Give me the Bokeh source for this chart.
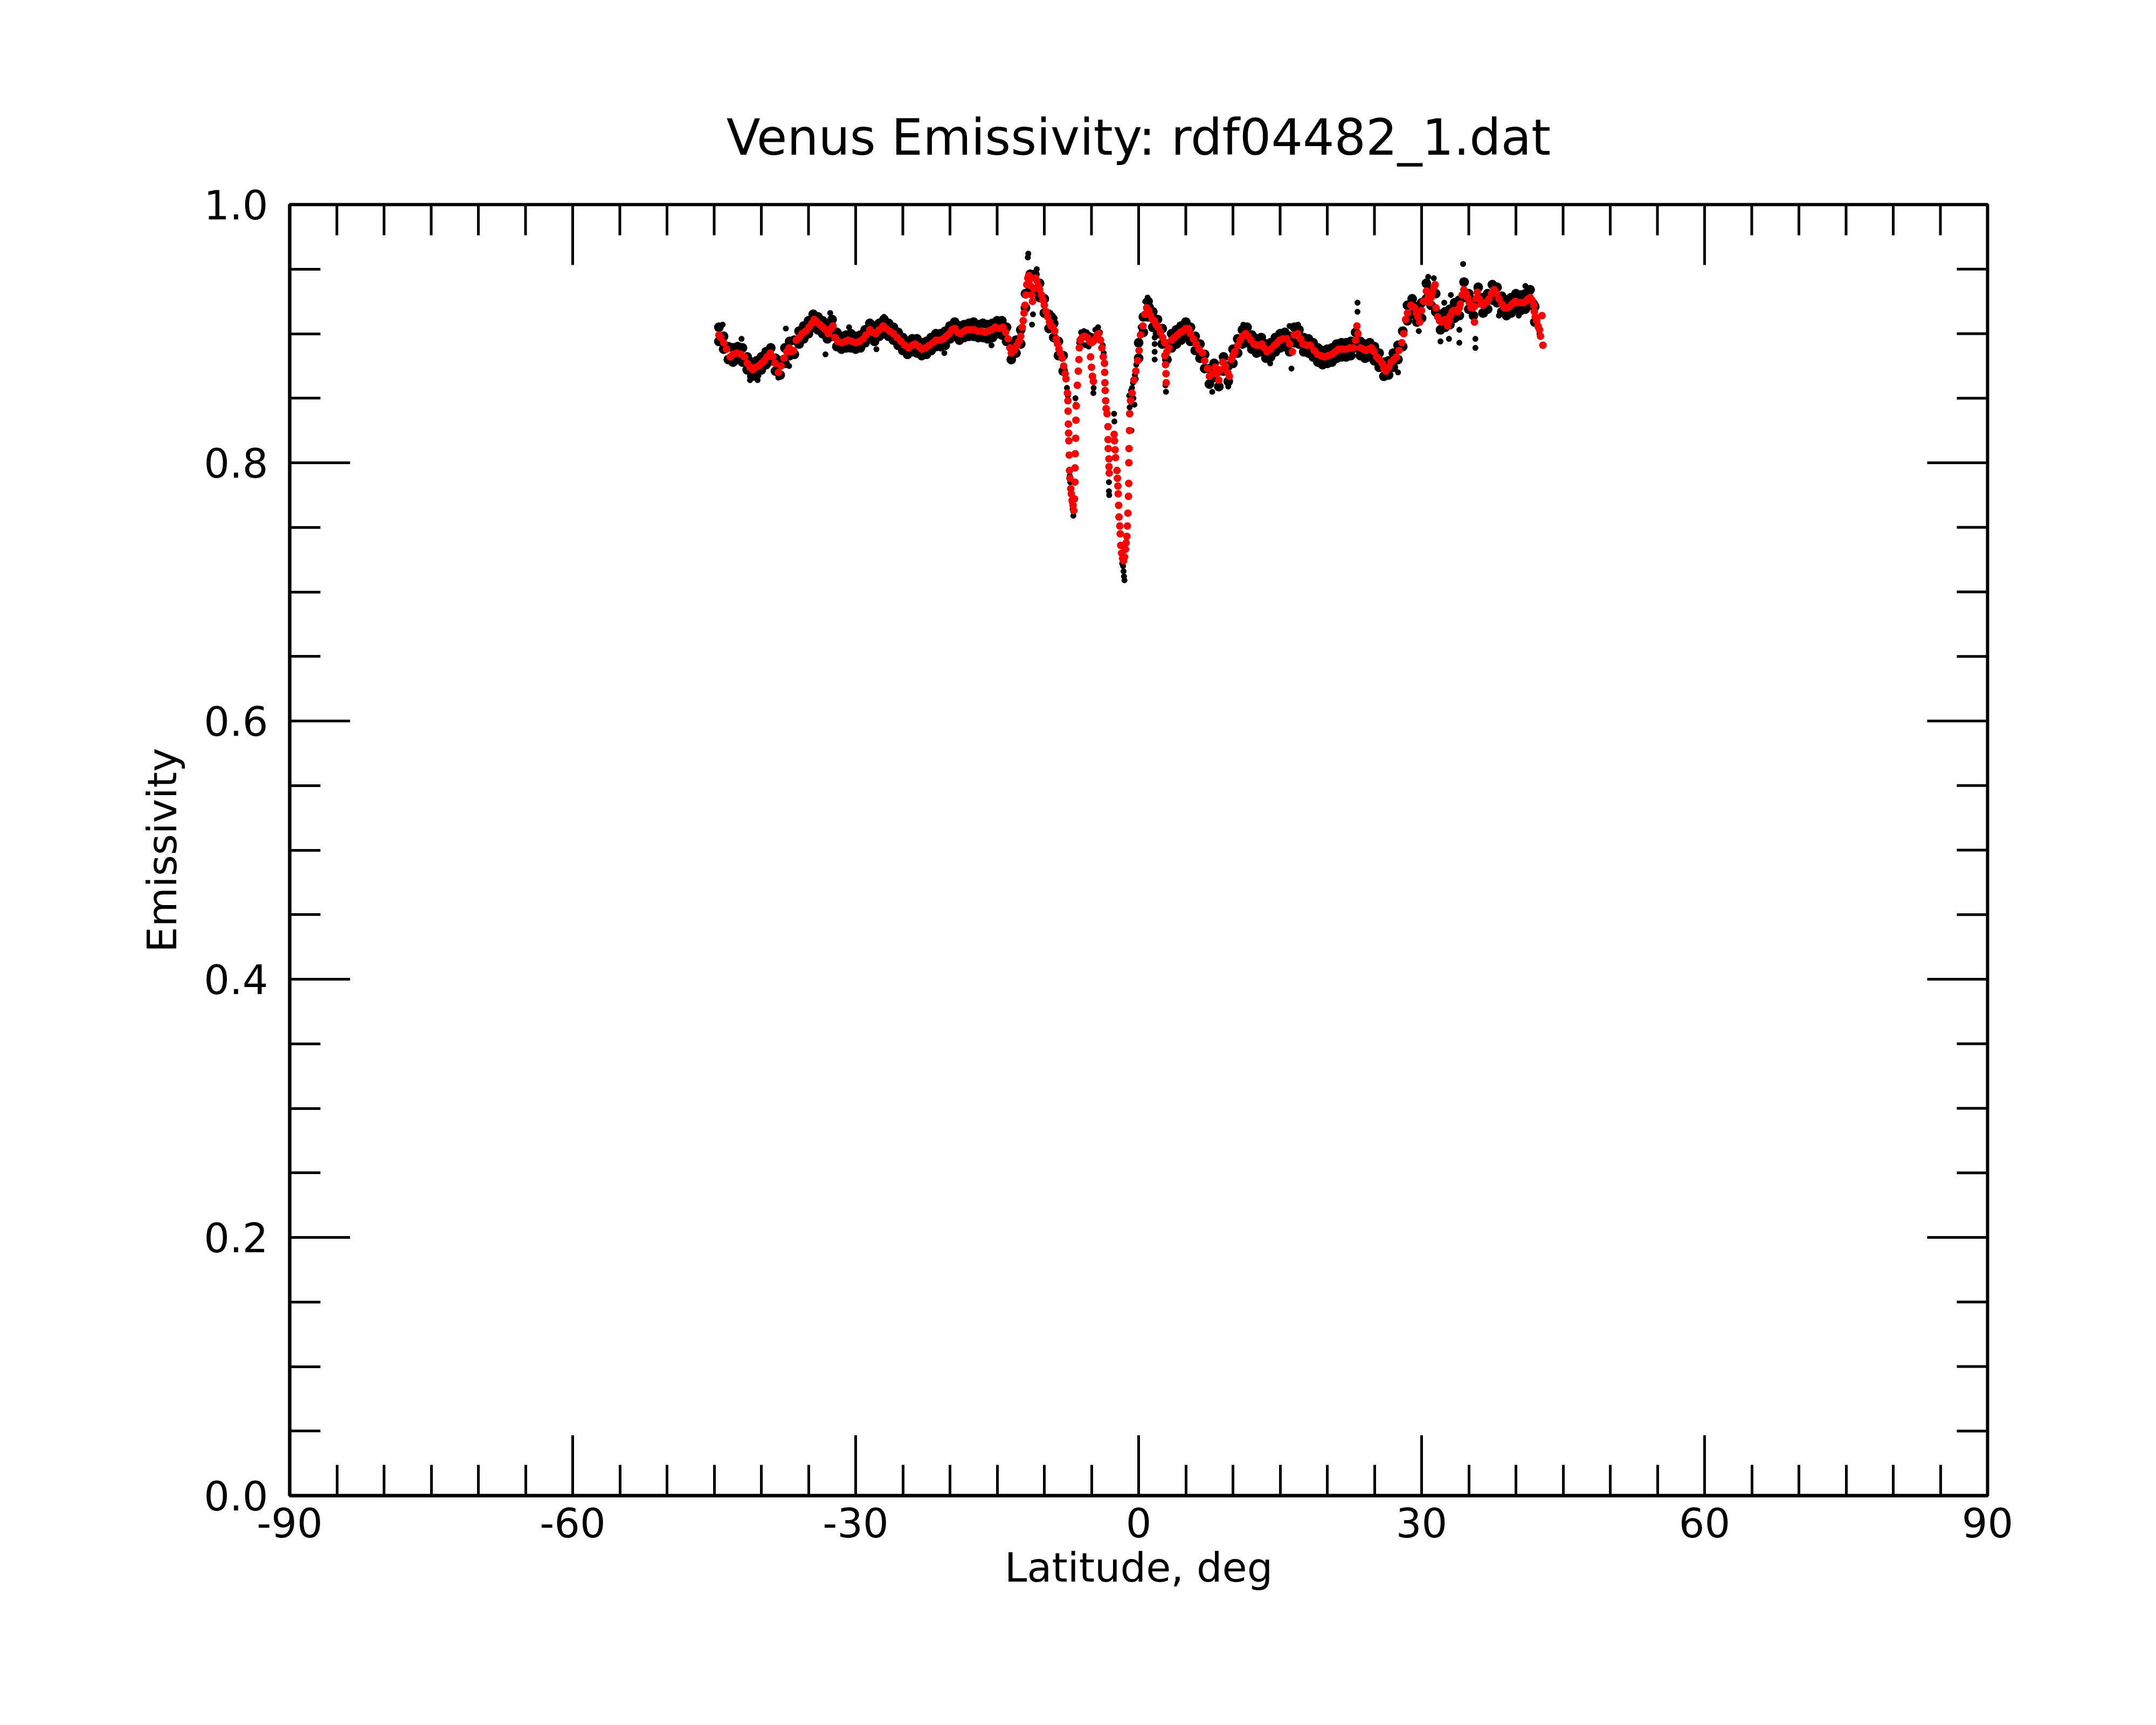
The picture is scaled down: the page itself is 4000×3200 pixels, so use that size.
import numpy as np
from bokeh.plotting import figure
from bokeh.models import Range1d, LinearAxis, FixedTicker, PrintfTickFormatter
from bokeh.embed import file_html
from bokeh.resources import INLINE

# ---------------- data ----------------
title_text = "Venus Emissivity: rdf04482_1.dat"
x_label = "Latitude, deg"
y_label = "Emissivity"
x_ticks = [-90, -60, -30, 0, 30, 60, 90]
y_ticks = [0.0, 0.2, 0.4, 0.6, 0.8, 1.0]

# red (smoothed) series
red_lat = [
    -44.5, -44.3, -44.0, -43.7, -43.3, -43.0, -42.6, -42.2, -41.8, -41.5, -41.2, -40.9, -40.6, -40.3,
    -40.0, -39.7, -39.4, -39.05, -38.8, -38.55, -38.2, -37.9, -37.6, -37.3, -37.05, -36.8, -36.6, -36.3,
    -36.0, -35.7, -35.3, -34.95, -34.65, -34.4, -34.1, -33.8, -33.5, -33.2, -32.9, -32.6, -32.4, -32.2,
    -31.9, -31.5, -31.1, -30.8, -30.4, -30.0, -29.6, -29.2, -28.9, -28.5, -28.2, -27.9, -27.5, -27.1,
    -26.8, -26.4, -26.0, -25.6, -25.2, -24.8, -24.4, -24.0, -23.7, -23.3, -23.0, -22.6, -22.2, -21.8,
    -21.5, -21.1, -20.7, -20.4, -20.1, -19.8, -19.5, -19.2, -18.9, -18.5, -18.2, -17.8, -17.5, -17.1,
    -16.7, -16.3, -15.95, -15.6, -15.2, -14.8, -14.4, -14.1, -13.85, -13.65, -13.5, -13.2, -12.9, -12.7,
    -12.5, -12.35, -12.24, -12.15, -12.05, -11.95, -11.86, -11.75, -11.65, -11.55, -11.45, -11.35, -11.25,
    -11.1, -10.95, -10.8, -10.65, -10.5, -10.3, -10.15, -10.0, -9.8, -9.65, -9.45, -9.3, -9.1, -8.9,
    -8.75, -8.6, -8.45, -8.3, -8.1, -7.95, -7.8, -7.7, -7.55, -7.5, -7.48, -7.45, -7.43, -7.4, -7.36,
    -7.33, -7.28, -7.2, -7.14, -7.05, -6.95, -6.88, -6.8, -6.76, -6.75, -6.72, -6.68, -6.65, -6.62,
    -6.5, -6.4, -6.33, -6.29, -6.2, -6.0, -5.75, -5.45, -5.2, -5.1, -5.0, -4.9, -4.8, -5.0, -4.8, -4.6,
    -4.4, -4.25, -4.05, -3.9, -3.75, -3.62, -3.6, -3.58, -3.55, -3.5, -3.45, -3.35, -3.25, -3.24, -3.22,
    -3.15, -3.14, -3.12, -2.6, -2.57, -2.5, -2.45, -2.3, -2.25, -2.2, -2.17, -2.12, -2.08, -2.0, -1.95,
    -1.9, -1.8, -1.7, -1.6, -1.5, -1.4, -1.33, -1.25, -1.2, -1.14, -1.08, -1.05, -1.04, -1.02, -0.97,
    -0.95, -0.86, -0.7, -0.5, -0.3, -0.1, 0.05, 0.2, 0.45, 0.65, 0.85, 1.05, 1.25, 1.45, 1.65, 1.85,
    2.05, 2.3, 2.55, 2.76, 2.78, 2.85, 2.9, 2.92, 3.0, 3.2, 3.5, 3.8, 4.1, 4.4, 4.7, 5.0, 5.25, 5.5,
    5.8, 6.1, 6.4, 6.76, 7.0, 7.3, 7.5, 7.8, 8.1, 8.3, 8.5, 8.7, 8.9, 9.2, 9.45, 9.62, 9.8, 10.0, 10.2,
    10.5, 10.76, 11.0, 11.33, 11.6, 11.9, 12.2, 12.5, 12.8, 13.05, 13.3, 13.6, 14.0, 14.4, 14.7, 14.95,
    15.3, 15.7, 16.0, 16.3, 16.5, 16.86, 17.15, 17.43, 17.8, 18.2, 18.6, 18.95, 19.3, 19.7, 20.1, 20.5,
    20.85, 21.2, 21.6, 22.0, 22.4, 22.76, 23.0, 23.14, 23.25, 23.5, 23.8, 24.1, 24.4, 24.67, 24.95,
    25.24, 25.5, 25.8, 26.0, 26.2, 26.5, 26.76, 27.05, 27.33, 27.6, 27.9, 28.1, 28.3, 28.5, 28.86,
    29.05, 29.24, 29.45, 29.6, 29.8, 30.0, 30.2, 30.5, 30.7, 30.86, 31.0, 31.14, 31.3, 31.43, 31.52,
    31.7, 31.9, 32.1, 32.3, 32.5, 32.76, 32.9, 33.05, 33.25, 33.4, 33.6, 33.8, 34.0, 34.1, 34.3, 34.48,
    34.7, 34.86, 35.05, 35.24, 35.45, 35.6, 35.6, 35.75, 35.9, 36.1, 36.29, 36.5, 36.76, 36.95, 37.14,
    37.4, 37.7, 37.95, 38.2, 38.5, 38.76, 39.05, 39.33, 39.6, 39.9, 40.2, 40.5, 40.8, 41.05, 41.3,
    41.5, 41.7, 41.9, 41.95, 42.05, 42.2, 42.35, 42.5, 42.6, 42.76, 42.86,
]
red_val = [
    0.899, 0.897, 0.893, 0.888, 0.882, 0.884, 0.885, 0.884, 0.882, 0.877, 0.874, 0.872, 0.874, 0.875,
    0.877, 0.879, 0.882, 0.885, 0.882, 0.877, 0.870, 0.875, 0.881, 0.886, 0.889, 0.886, 0.887, 0.895,
    0.897, 0.900, 0.902, 0.905, 0.908, 0.911, 0.909, 0.907, 0.905, 0.903, 0.900, 0.904, 0.906, 0.897,
    0.894, 0.893, 0.894, 0.895, 0.894, 0.893, 0.894, 0.896, 0.899, 0.903, 0.901, 0.900, 0.903, 0.906,
    0.904, 0.902, 0.900, 0.897, 0.894, 0.891, 0.889, 0.891, 0.892, 0.890, 0.888, 0.889, 0.891, 0.893,
    0.895, 0.895, 0.896, 0.898, 0.900, 0.903, 0.904, 0.901, 0.900, 0.902, 0.903, 0.903, 0.903, 0.902,
    0.902, 0.901, 0.902, 0.903, 0.905, 0.904, 0.905, 0.901, 0.896, 0.889, 0.885, 0.887, 0.891, 0.894,
    0.898, 0.905, 0.910, 0.916, 0.922, 0.930, 0.938, 0.943, 0.945, 0.942, 0.937, 0.930, 0.925,
    0.935, 0.943, 0.941, 0.937, 0.934, 0.930, 0.926, 0.922, 0.917, 0.913, 0.909, 0.906, 0.905, 0.902,
    0.896, 0.892, 0.888, 0.885, 0.881, 0.875, 0.869, 0.865, 0.854, 0.848, 0.840, 0.830, 0.823, 0.817, 0.806,
    0.794, 0.788, 0.780, 0.776, 0.771, 0.767, 0.763, 0.772, 0.785, 0.796, 0.807, 0.819, 0.833, 0.844,
    0.860, 0.871, 0.880, 0.889, 0.895, 0.897, 0.898, 0.897, 0.894, 0.882, 0.874, 0.867, 0.863, 0.893, 0.894, 0.896,
    0.899, 0.900, 0.895, 0.889, 0.882, 0.877, 0.870, 0.862, 0.856, 0.848, 0.842, 0.838, 0.828, 0.818, 0.811,
    0.803, 0.797, 0.792, 0.822, 0.817, 0.810, 0.804, 0.794, 0.788, 0.782, 0.776, 0.767, 0.758, 0.751, 0.745,
    0.736, 0.730, 0.726, 0.724, 0.727, 0.733, 0.738, 0.743, 0.751, 0.761, 0.774, 0.784, 0.800, 0.811, 0.825,
    0.838, 0.848, 0.854, 0.864, 0.871, 0.879, 0.887, 0.899, 0.906, 0.915, 0.920, 0.918, 0.914, 0.911, 0.910, 0.907,
    0.905, 0.901, 0.897, 0.893, 0.883, 0.876, 0.869, 0.862, 0.886, 0.889, 0.895, 0.897, 0.899, 0.901, 0.902, 0.904, 0.904, 0.900,
    0.896, 0.892, 0.888, 0.885, 0.879, 0.873, 0.867, 0.869, 0.874, 0.869, 0.864, 0.872, 0.878, 0.875, 0.870, 0.867, 0.880, 0.883, 0.886,
    0.891, 0.895, 0.898, 0.900, 0.898, 0.895, 0.892, 0.891, 0.891, 0.892, 0.889, 0.886, 0.888, 0.891, 0.893, 0.895,
    0.896, 0.896, 0.892, 0.886, 0.899, 0.900, 0.896, 0.892, 0.891, 0.891, 0.887, 0.884, 0.883, 0.882, 0.883, 0.884,
    0.886, 0.888, 0.888, 0.888, 0.889, 0.889, 0.895, 0.906, 0.900, 0.889, 0.888, 0.887, 0.888, 0.889, 0.886,
    0.882, 0.880, 0.877, 0.873, 0.871, 0.874, 0.878, 0.880, 0.882, 0.887, 0.893, 0.900, 0.911, 0.916, 0.922,
    0.921, 0.920, 0.916, 0.913, 0.909, 0.918, 0.925, 0.933, 0.928, 0.924, 0.928, 0.932, 0.936, 0.938, 0.920,
    0.913, 0.910, 0.909, 0.910, 0.911, 0.906, 0.910, 0.914, 0.917, 0.918, 0.918, 0.917, 0.920, 0.923, 0.930, 0.934,
    0.931, 0.928, 0.924, 0.920, 0.920, 0.921, 0.909, 0.927, 0.932, 0.927, 0.923, 0.922, 0.924, 0.925, 0.927,
    0.931, 0.934, 0.931, 0.927, 0.923, 0.920, 0.920, 0.921, 0.923, 0.925, 0.924, 0.924, 0.924, 0.925, 0.927,
    0.928, 0.926, 0.922, 0.917, 0.913, 0.910, 0.906, 0.903, 0.898, 0.914, 0.891,
]

# black (raw) series: upper and lower edge of the dense band
blk_lat = [
    -44.5, -44.0, -43.5, -43.0, -42.5, -42.0, -41.5, -41.0, -40.5, -40.0, -39.5, -39.0, -38.5, -38.0,
    -37.5, -37.0, -36.5, -36.0, -35.5, -35.0, -34.5, -34.0, -33.5, -33.0, -32.5, -32.0, -31.5, -31.0,
    -30.5, -30.0, -29.5, -29.0, -28.5, -28.0, -27.5, -27.0, -26.5, -26.0, -25.5, -25.0, -24.5, -24.0,
    -23.5, -23.0, -22.5, -22.0, -21.5, -21.0, -20.5, -20.0, -19.5, -19.0, -18.5, -18.0, -17.5, -17.0,
    -16.5, -16.0, -15.5, -15.0, -14.5, -14.0, -13.5, -13.0, -12.5, -12.0, -11.5, -11.0, -10.5, -10.0,
    -9.5, -9.0, -8.5, -8.0,
    0.0, 0.5, 1.0, 1.5, 2.0, 2.5, 3.0, 3.5, 4.0, 4.5, 5.0, 5.5, 6.0, 6.5, 7.0, 7.5, 8.0, 8.5, 9.0, 9.5,
    10.0, 10.5, 11.0, 11.5, 12.0, 12.5, 13.0, 13.5, 14.0, 14.5, 15.0, 15.5, 16.0, 16.5, 17.0, 17.5, 18.0,
    18.5, 19.0, 19.5, 20.0, 20.5, 21.0, 21.5, 22.0, 22.5, 23.0, 23.5, 24.0, 24.5, 25.0, 25.5, 26.0, 26.5,
    27.0, 27.5, 28.0, 28.5, 29.0, 29.5, 30.0, 30.5, 31.0, 31.5, 32.0, 32.5, 33.0, 33.5, 34.0, 34.5, 35.0,
    35.5, 36.0, 36.5, 37.0, 37.5, 38.0, 38.5, 39.0, 39.5, 40.0, 40.5, 41.0, 41.5, 42.0,
]
blk_hi = [
    0.905, 0.898, 0.890, 0.889, 0.890, 0.889, 0.882, 0.878, 0.879, 0.882, 0.886, 0.889, 0.881, 0.879,
    0.889, 0.894, 0.895, 0.902, 0.906, 0.910, 0.915, 0.913, 0.910, 0.906, 0.911, 0.901, 0.898, 0.899,
    0.900, 0.898, 0.899, 0.903, 0.908, 0.906, 0.908, 0.911, 0.908, 0.905, 0.901, 0.897, 0.894, 0.896,
    0.896, 0.893, 0.894, 0.897, 0.900, 0.900, 0.902, 0.906, 0.909, 0.906, 0.907, 0.908, 0.909, 0.907,
    0.908, 0.907, 0.908, 0.910, 0.910, 0.905, 0.891, 0.895, 0.903, 0.931, 0.946, 0.946, 0.939, 0.927,
    0.915, 0.908, 0.894, 0.883,
    0.893, 0.913, 0.925, 0.917, 0.911, 0.904, 0.892, 0.900, 0.903, 0.906, 0.909, 0.905, 0.898, 0.892,
    0.884, 0.873, 0.877, 0.871, 0.882, 0.875,
    0.888, 0.896, 0.903, 0.905, 0.899, 0.896, 0.897, 0.892, 0.893, 0.897, 0.900, 0.901, 0.898, 0.905,
    0.903, 0.897, 0.896, 0.893, 0.889, 0.887, 0.888, 0.889, 0.892, 0.893, 0.893, 0.894, 0.901, 0.894,
    0.892, 0.893, 0.890, 0.885, 0.878, 0.879, 0.885, 0.891, 0.902, 0.922, 0.927, 0.921, 0.924, 0.939,
    0.934, 0.931, 0.915, 0.917, 0.919, 0.924, 0.926, 0.940, 0.931, 0.926, 0.936, 0.928, 0.931, 0.938,
    0.936, 0.929, 0.926, 0.928, 0.931, 0.930, 0.931, 0.934, 0.921,
]
blk_lo = [
    0.894, 0.888, 0.880, 0.878, 0.880, 0.878, 0.872, 0.867, 0.868, 0.872, 0.876, 0.879, 0.871, 0.868,
    0.877, 0.883, 0.884, 0.892, 0.896, 0.900, 0.905, 0.903, 0.900, 0.896, 0.898, 0.890, 0.888, 0.889,
    0.889, 0.888, 0.889, 0.893, 0.897, 0.894, 0.898, 0.900, 0.898, 0.895, 0.891, 0.887, 0.884, 0.886,
    0.885, 0.883, 0.884, 0.887, 0.890, 0.890, 0.891, 0.896, 0.898, 0.895, 0.897, 0.898, 0.898, 0.897,
    0.897, 0.896, 0.897, 0.900, 0.899, 0.894, 0.880, 0.885, 0.892, 0.920, 0.934, 0.934, 0.928, 0.916,
    0.904, 0.897, 0.883, 0.871,
    0.881, 0.901, 0.913, 0.905, 0.900, 0.892, 0.880, 0.889, 0.892, 0.895, 0.898, 0.894, 0.887, 0.881,
    0.873, 0.861, 0.866, 0.859, 0.871, 0.863,
    0.877, 0.885, 0.892, 0.893, 0.888, 0.885, 0.886, 0.881, 0.882, 0.886, 0.889, 0.890, 0.886, 0.893,
    0.892, 0.886, 0.885, 0.882, 0.878, 0.876, 0.877, 0.878, 0.881, 0.882, 0.882, 0.883, 0.889, 0.883,
    0.881, 0.882, 0.879, 0.874, 0.867, 0.868, 0.874, 0.880, 0.890, 0.910, 0.915, 0.909, 0.912, 0.927,
    0.922, 0.917, 0.903, 0.905, 0.907, 0.912, 0.914, 0.928, 0.919, 0.914, 0.924, 0.916, 0.919, 0.926,
    0.924, 0.917, 0.914, 0.916, 0.919, 0.918, 0.919, 0.922, 0.909,
]

# isolated black points (outliers and points in the dips)
out_lat = [
    -44.1, -42.1, -41.2, -40.4, -38.2, -37.4, -37.05, -34.5, -33.2, -32.7, -30.7, -27.8, -27.0, -20.6,
    -15.6, -13.4, -11.7, -11.75, -10.8, -11.3, -11.2, -9.1, -8.9,
    -7.6, -7.5, -7.3, -7.25, -7.1, -7.0, -6.92, -6.9, -6.7, -6.65, -6.3, -6.1, -5.8, -5.5, -5.2, -4.9,
    -4.6, -4.3, -4.1, -6.0, -5.6, -5.3, -4.8, -4.77, -3.8, -3.7, -3.15, -3.15, -3.12, -2.6, -2.57,
    -1.65, -1.6, -1.55, -1.5, -1.75, -1.0, -0.95, -0.8, -0.7, -0.6, -0.55, -0.45, -0.4, -0.25, -0.15,
    -0.76, -0.3,
    0.2, 0.7, 0.95, 1.3, 1.7, 1.7, 1.7, 1.7, 2.9, 2.85,
    7.8, 9.5, 11.1, 13.95, 16.0, 16.2, 16.9, 23.2, 23.2, 26.2, 27.5,
    29.7, 30.7, 31.3, 32.0, 32.4, 32.9, 33.1, 34.0, 34.0, 34.4, 35.7, 35.7, 36.7, 38.2, 40.3, 41.0,
    42.0, 42.3, 42.5,
]
out_val = [
    0.907, 0.896, 0.864, 0.864, 0.866, 0.904, 0.875, 0.916, 0.884, 0.916, 0.905, 0.888, 0.913, 0.885,
    0.891, 0.880, 0.962, 0.959, 0.950, 0.907, 0.915, 0.914, 0.912,
    0.858, 0.852, 0.790, 0.785, 0.770, 0.764, 0.759, 0.762, 0.850, 0.845, 0.893, 0.901, 0.902, 0.901,
    0.899, 0.898, 0.903, 0.905, 0.901, 0.892, 0.891, 0.890, 0.854, 0.858, 0.891, 0.885, 0.785, 0.778,
    0.775, 0.838, 0.832,
    0.720, 0.716, 0.712, 0.709, 0.722, 0.852, 0.843, 0.856, 0.858, 0.862, 0.850, 0.845, 0.868, 0.876,
    0.882, 0.825, 0.865,
    0.905, 0.925, 0.928, 0.921, 0.897, 0.892, 0.886, 0.880, 0.855, 0.860,
    0.855, 0.859, 0.907, 0.877, 0.906, 0.873, 0.907, 0.924, 0.917, 0.868, 0.870,
    0.902, 0.944, 0.943, 0.894, 0.924, 0.896, 0.930, 0.893, 0.903, 0.954, 0.889, 0.896, 0.915, 0.914,
    0.914, 0.937, 0.924, 0.905, 0.900,
]

# ---------------- figure ----------------
FONT = "DejaVu Sans"
W, H = 3984, 3184
BL, BR, BT, BB = 537, 297, 379, 410          # frame borders (px)
X0, X1, Y0, Y1 = -90, 90, 0.0, 1.0
TICK_MAJ, TICK_MIN = 112, 57                 # inward tick lengths (px)

p = figure(
    width=W, height=H,
    x_range=Range1d(X0, X1), y_range=Range1d(Y0, Y1),
    output_backend="svg", toolbar_location=None,
    x_axis_location=None, y_axis_location=None,
    min_border_left=BL, min_border_right=BR, min_border_top=BT, min_border_bottom=BB,
    background_fill_color="white", border_fill_color="white",
)
p.outline_line_color = "black"
p.outline_line_width = 6
p.xgrid.visible = False
p.ygrid.visible = False

x_minor = [v for v in range(-90, 91, 5) if v % 30 != 0]
y_minor = [round(0.05 * k, 2) for k in range(0, 21) if k % 4 != 0]
xt = FixedTicker(ticks=x_ticks, minor_ticks=x_minor)
yt = FixedTicker(ticks=y_ticks, minor_ticks=y_minor)


def style(ax):
    ax.axis_line_width = 6
    ax.axis_line_color = "black"
    ax.major_tick_in = TICK_MAJ
    ax.major_tick_out = 0
    ax.minor_tick_in = TICK_MIN
    ax.minor_tick_out = 0
    ax.major_tick_line_width = 5
    ax.minor_tick_line_width = 5
    ax.major_tick_line_color = "black"
    ax.minor_tick_line_color = "black"
    ax.major_label_text_font = FONT
    ax.major_label_text_color = "black"
    ax.major_label_text_font_size = "75px"
    ax.axis_label_text_font = FONT
    ax.axis_label_text_font_style = "normal"
    ax.axis_label_text_font_size = "75px"
    ax.axis_label_text_color = "black"


bottom = LinearAxis(ticker=xt, axis_label=x_label, formatter=PrintfTickFormatter(format="%d"))
style(bottom)
bottom.major_label_standoff = 22
bottom.axis_label_standoff = 9
left = LinearAxis(ticker=yt, axis_label=y_label, formatter=PrintfTickFormatter(format="%.1f"))
style(left)
left.major_label_standoff = 40
left.axis_label_standoff = 30
p.add_layout(bottom, "below")
p.add_layout(left, "left")

# mirrored inward ticks on the top and right frame edges
fw = W - BL - BR
fh = H - BT - BB
dy_maj = TICK_MAJ * (Y1 - Y0) / fh
dy_min = TICK_MIN * (Y1 - Y0) / fh
dx_maj = TICK_MAJ * (X1 - X0) / fw
dx_min = TICK_MIN * (X1 - X0) / fw
p.segment(x0=x_ticks, y0=[Y1] * len(x_ticks), x1=x_ticks, y1=[Y1 - dy_maj] * len(x_ticks),
          line_color="black", line_width=5, line_cap="butt")
p.segment(x0=x_minor, y0=[Y1] * len(x_minor), x1=x_minor, y1=[Y1 - dy_min] * len(x_minor),
          line_color="black", line_width=5, line_cap="butt")
p.segment(x0=[X1] * len(y_ticks), y0=y_ticks, x1=[X1 - dx_maj] * len(y_ticks), y1=y_ticks,
          line_color="black", line_width=5, line_cap="butt")
p.segment(x0=[X1] * len(y_minor), y0=y_minor, x1=[X1 - dx_min] * len(y_minor), y1=y_minor,
          line_color="black", line_width=5, line_cap="butt")

p.title.text = title_text
p.title.align = "center"
p.title.text_font = FONT
p.title.text_font_size = "92px"
p.title.text_font_style = "normal"
p.title.text_color = "black"
p.title.standoff = 142

DOT_BAND = 18
DOT_OUT = 11
DOT_RED = 14
p.scatter(blk_lat, blk_hi, marker="circle", size=DOT_BAND, fill_color="black", line_color=None)
p.scatter(blk_lat, blk_lo, marker="circle", size=DOT_BAND, fill_color="black", line_color=None)
p.scatter(out_lat, out_val, marker="circle", size=DOT_OUT, fill_color="black", line_color=None)
p.scatter(red_lat, red_val, marker="circle", size=DOT_RED, fill_color="red", line_color=None)

open("out.html", "w").write(file_html(p, INLINE))
